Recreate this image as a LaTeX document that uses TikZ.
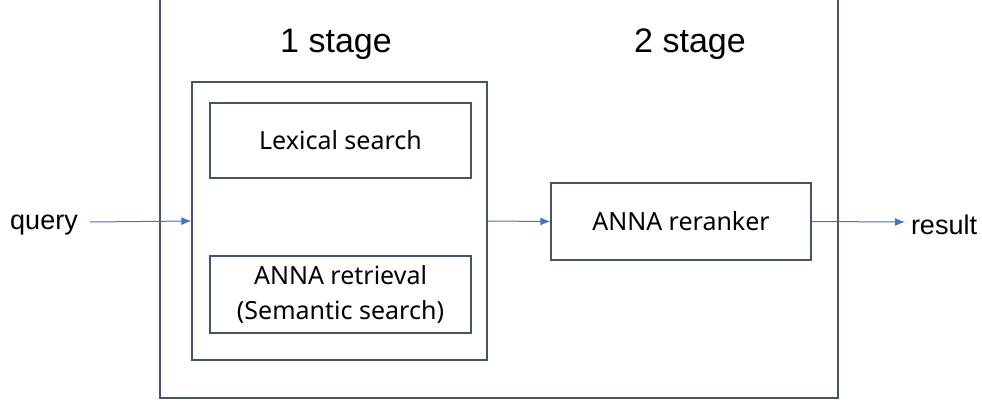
\documentclass[tikz,border=0pt]{standalone}
\usepackage{fontspec}
\setmainfont{Liberation Sans}
\newfontfamily\boxfont{Noto Sans}
\usepackage{xcolor}
\usepackage{tikz}
\usetikzlibrary{positioning}
\usetikzlibrary{arrows.meta}
\definecolor{framegray}{RGB}{68,84,106}
\definecolor{flowblue}{RGB}{68,114,196}
\tikzset {
  x=1pt, y=-1pt,
  % boxes of the pipeline
  frame/.style = {draw=framegray, line width=1.3pt, inner sep=0pt},
  stagebox/.style = {frame, font=\boxfont\fontsize{25}{35}\selectfont, align=center},
  % text outside the boxes
  label/.style = {font=\fontsize{27}{30}\selectfont},
  title/.style = {font=\fontsize{34}{40}\selectfont},
  % the data flow
  flow/.style = {-{Latex[length=10pt, width=8pt]}, flowblue, line width=1pt},
}

\begin{document}
\begin{tikzpicture}
      \useasboundingbox (0,0) rectangle (982,404);
      \node[frame, minimum width=678pt, minimum height=408pt] (outer) at (499,194) {};

      \node[title] (one) at (336,44) {1 stage};
      \node[title] (two) at (690,44) {2 stage};

      \node[frame, minimum width=295pt, minimum height=278pt] (first) at (339.5,221) {};
      \node[stagebox, minimum width=261pt, minimum height=75pt] (lexical) at (340.5,140.5) {Lexical search};
      \node[stagebox, minimum width=261pt, minimum height=77pt] (retrieval) at (340.5,294.5) {ANNA retrieval\\(Semantic search)};
      \node[stagebox, minimum width=260pt, minimum height=77pt] (reranker) at (681,221.5) {ANNA reranker};

      \node[label] (query) at (44,225) {query};
      \node[label] (result) at (944,225) {result};

      \coordinate (qstart) at (90,222);
      \coordinate (rend) at (905,222);
      \draw [flow] (qstart) -- (first.west);
      \draw [flow] (first.east) -- (reranker.west);
      \draw [flow] (reranker.east) -- (rend);
    \end{tikzpicture}
\end{document}
